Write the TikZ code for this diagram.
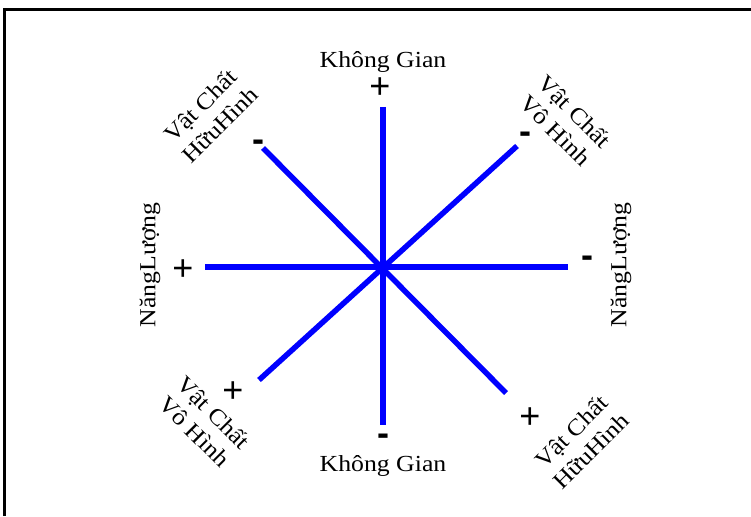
\documentclass[tikz,border=0pt]{standalone}
\usepackage{fontspec}
\setmainfont{Liberation Serif}[FakeStretch=1.12]
\newfontfamily\signfont{Liberation Sans}

\begin{document}
\begin{tikzpicture}[x=1pt,y=-1pt,
  axis/.style={line width=5.5pt,blue},
  lbl/.style={font=\fontsize{23}{27}\selectfont,align=center,inner sep=0pt},
  sgn/.style={font=\signfont\fontsize{36}{36}\selectfont,inner sep=0pt}]
\useasboundingbox (0,0) rectangle (751,516);
\draw[line width=3pt] (4,516)--(4,9.5)--(751,9.5);

% the four axes through the centre
\coordinate (eN) at (383,107);
\coordinate (eS) at (383,425);
\coordinate (eW) at (205,267);
\coordinate (eE) at (568,267);
\coordinate (eNW) at (263,148);
\coordinate (eSE) at (506,393);
\coordinate (eNE) at (517,146);
\coordinate (eSW) at (259,380);
\foreach \a/\b in {eN/eS,eW/eE,eNW/eSE,eNE/eSW}
  \draw[axis] (\a)--(\b);

% signs
\node[sgn] (pN) at (380,88){+};
\node[sgn] (mS) at (383,440){\bfseries -};
\node[sgn] (pW) at (183,270){+};
\node[sgn] (mE) at (587,262){\bfseries -};
\node[sgn] (mNW) at (258,146){\bfseries -};
\node[sgn] (mNE) at (525,138){\bfseries -};
\node[sgn] (pSW) at (233,392){+};
\node[sgn] (pSE) at (530,418){+};

% labels
\node[lbl] (kgN) at (383,62){Không Gian};
\node[lbl] (kgS) at (383,466){Không Gian};
\node[lbl,rotate=90] (nlW) at (150,265){NăngLượng};
\node[lbl,rotate=90] (nlE) at (621,265){NăngLượng};
\node[lbl,rotate=45] (vcNW) at (210,115){Vật Chất\\HữuHình};
\node[lbl,rotate=-45] (vcNE) at (565,121){Vật Chất\\Vô Hình};
\node[lbl,rotate=-45] (vcSW) at (204,422){Vật Chất\\Vô Hình};
\node[lbl,rotate=45] (vcSE) at (581,441){Vật Chất\\HữuHình};
\end{tikzpicture}
\end{document}
